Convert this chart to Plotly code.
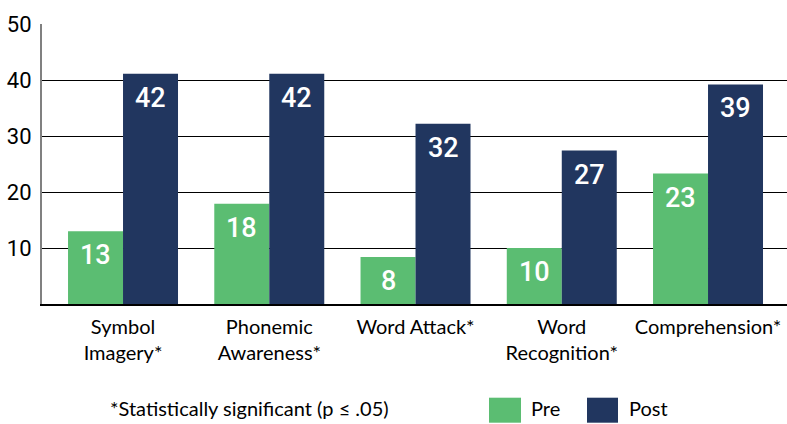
import plotly.graph_objects as go

categories = ["Symbol<br>Imagery*", "Phonemic<br>Awareness*", "Word Attack*", "Word<br>Recognition*", "Comprehension*"]
pre_values = [13.0, 17.9, 8.4, 10.0, 23.3]
post_values = [41.1, 41.1, 32.2, 27.4, 39.2]
pre_labels = ["13", "18", "8", "10", "23"]
post_labels = ["42", "42", "32", "27", "39"]
y_ticks = [10, 20, 30, 40, 50]

GREEN = "#5BBD72"
NAVY = "#21365F"
COND = "Roboto, sans-serif"
BODY = "Lato, Noto Sans, sans-serif"

x_idx = list(range(len(categories)))

fig = go.Figure()
fig.add_trace(go.Bar(x=x_idx, y=pre_values, name="Pre", marker=dict(color=GREEN, line=dict(width=0))))
fig.add_trace(go.Bar(x=x_idx, y=post_values, name="Post", marker=dict(color=NAVY, line=dict(width=0))))

off = 0.188
anns = []
for i in x_idx:
    anns.append(dict(x=i - off, y=pre_values[i], xref="x", yref="y", text=pre_labels[i], showarrow=False,
                     yshift=-24, font=dict(family=COND, size=27, color="white", weight=500)))
    anns.append(dict(x=i + off, y=post_values[i], xref="x", yref="y", text=post_labels[i], showarrow=False,
                     yshift=-24, font=dict(family=COND, size=27, color="white", weight=500)))

def px_x(p):
    return (p - 42) / 745.0

def px_y(p):
    return (304.3 - p) / 280.0

anns.append(dict(x=px_x(249), y=px_y(408), xref="paper", yref="paper", text="*Statistically significant (p ≤ .05)",
                 showarrow=False, xanchor="center", yanchor="middle", font=dict(family=BODY, size=20, color="black")))
anns.append(dict(x=px_x(529), y=px_y(408), xref="paper", yref="paper", text="Pre",
                 showarrow=False, xanchor="left", yanchor="middle", font=dict(family=BODY, size=20, color="black")))
anns.append(dict(x=px_x(627), y=px_y(408), xref="paper", yref="paper", text="Post",
                 showarrow=False, xanchor="left", yanchor="middle", font=dict(family=BODY, size=20, color="black")))

shapes = [
    dict(type="rect", xref="paper", yref="paper", x0=px_x(489), x1=px_x(521), y0=px_y(423), y1=px_y(398),
         fillcolor=GREEN, line=dict(width=0)),
    dict(type="rect", xref="paper", yref="paper", x0=px_x(587), x1=px_x(618), y0=px_y(423), y1=px_y(398),
         fillcolor=NAVY, line=dict(width=0)),
]

fig.update_layout(
    width=787, height=424,
    margin=dict(l=42, r=0, t=24, b=120),
    paper_bgcolor="white", plot_bgcolor="white",
    barmode="group", bargap=0.248, bargroupgap=0,
    showlegend=False,
    annotations=anns, shapes=shapes,
    xaxis=dict(tickmode="array", tickvals=x_idx, ticktext=categories, range=[-0.554, 4.54],
               showgrid=False, zeroline=False, showline=True, linecolor="black", linewidth=1.5,
               ticks="", ticklabelstandoff=4, tickfont=dict(family=BODY, size=20, color="black")),
    yaxis=dict(range=[0, 50], tickvals=y_ticks, showgrid=True, gridcolor="black", gridwidth=1.2,
               zeroline=False, showline=True, linecolor="#808080", linewidth=2,
               ticks="", ticklabelstandoff=4, tickfont=dict(family=COND, size=22, color="black")),
)

fig.write_html("out.html", config={"displayModeBar": False},
               post_script="document.body.style.margin='0';document.body.style.padding='0';")
